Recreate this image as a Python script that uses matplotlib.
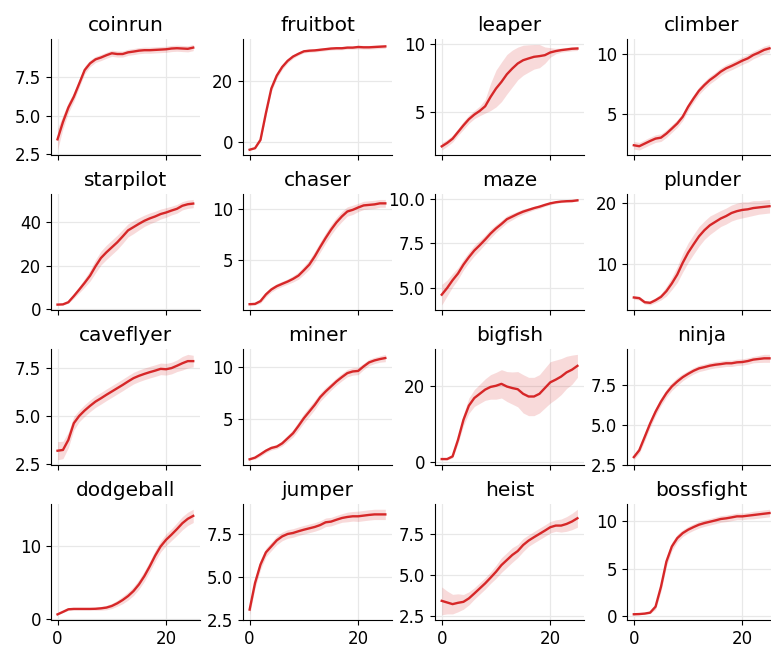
import numpy as np
import matplotlib
matplotlib.use("Agg")
import matplotlib.pyplot as plt

# training progress (x in millions of steps), mean return and half-width of the shaded band
steps = np.arange(26)

coinrun_mean = [3.45, 4.58, 5.53, 6.23, 7.1, 7.98, 8.42, 8.68, 8.8, 8.95, 9.08, 9.03, 9.03,
                9.14, 9.19, 9.25, 9.28, 9.28, 9.3, 9.32, 9.34, 9.39, 9.41, 9.39, 9.37, 9.45]
coinrun_band = [0.7, 0.45, 0.35, 0.3, 0.25, 0.25, 0.22, 0.2, 0.2, 0.2, 0.2, 0.2, 0.2,
                0.2, 0.2, 0.2, 0.2, 0.2, 0.2, 0.2, 0.2, 0.2, 0.2, 0.2, 0.2, 0.2]

fruitbot_mean = [-2.4, -1.9, 0.8, 9.5, 17.5, 21.7, 24.5, 26.5, 27.9, 28.8, 29.6, 29.8, 29.9,
                 30.1, 30.3, 30.5, 30.6, 30.6, 30.8, 30.8, 31.0, 30.9, 30.9, 31.0, 31.1, 31.2]
fruitbot_band = [0.1, 0.15, 0.5, 1.0, 1.0, 0.9, 0.8, 0.7, 0.6, 0.5, 0.5, 0.5, 0.5,
                 0.5, 0.5, 0.5, 0.5, 0.5, 0.5, 0.5, 0.6, 0.6, 0.6, 0.6, 0.6, 0.6]

leaper_mean = [2.5, 2.75, 3.06, 3.55, 4.04, 4.49, 4.83, 5.1, 5.44, 6.13, 6.74, 7.23, 7.79,
               8.21, 8.58, 8.82, 8.95, 9.07, 9.12, 9.19, 9.39, 9.49, 9.56, 9.61, 9.66, 9.68]
leaper_band = [0.27, 0.25, 0.25, 0.25, 0.3, 0.3, 0.3, 0.35, 0.5, 1.0, 1.35, 1.45, 1.45,
               1.35, 1.2, 1.1, 1.0, 0.9, 0.85, 0.6, 0.35, 0.2, 0.15, 0.15, 0.15, 0.15]

climber_mean = [2.36, 2.28, 2.5, 2.72, 2.92, 3.0, 3.34, 3.76, 4.19, 4.75, 5.59, 6.29, 6.94,
                7.42, 7.84, 8.17, 8.54, 8.82, 9.02, 9.24, 9.47, 9.66, 9.94, 10.14, 10.37, 10.5]
climber_band = [0.32] * 26

starpilot_mean = [2.1, 2.2, 3.2, 6.0, 9.0, 12.1, 15.4, 19.7, 23.5, 26.1, 28.4, 30.7, 33.4,
                  36.2, 37.7, 39.2, 40.6, 41.7, 42.6, 43.7, 44.4, 45.3, 46.1, 47.5, 48.2, 48.5]
starpilot_band = [0.15, 0.2, 0.5, 1.0, 1.5, 2.0, 2.5, 3.0, 3.2, 3.3, 3.3, 3.3, 3.2,
                  3.0, 3.0, 2.8, 2.6, 2.5, 2.4, 2.3, 2.2, 2.0, 2.0, 1.9, 1.9, 1.9]

chaser_mean = [0.7, 0.73, 1.0, 1.65, 2.13, 2.45, 2.68, 2.9, 3.16, 3.48, 4.0, 4.55, 5.35,
               6.26, 7.13, 7.94, 8.65, 9.23, 9.71, 9.87, 10.1, 10.3, 10.35, 10.4, 10.5, 10.5]
chaser_band = [0.07, 0.1, 0.2, 0.25, 0.25, 0.25, 0.25, 0.25, 0.3, 0.35, 0.4, 0.45, 0.5,
               0.5, 0.5, 0.5, 0.5, 0.5, 0.45, 0.45, 0.4, 0.4, 0.4, 0.4, 0.38, 0.38]

maze_mean = [4.6, 4.98, 5.42, 5.8, 6.3, 6.72, 7.1, 7.4, 7.72, 8.06, 8.35, 8.6, 8.87,
             9.02, 9.17, 9.3, 9.4, 9.5, 9.58, 9.68, 9.77, 9.83, 9.87, 9.89, 9.9, 9.94]
maze_band = [0.58, 0.45, 0.38, 0.33, 0.3, 0.3, 0.3, 0.28, 0.25, 0.25, 0.22, 0.2, 0.2,
             0.18, 0.15, 0.15, 0.12, 0.1, 0.1, 0.08, 0.08, 0.06, 0.06, 0.05, 0.05, 0.05]

plunder_mean = [4.57, 4.46, 3.8, 3.7, 4.13, 4.67, 5.6, 6.85, 8.3, 10.2, 11.85, 13.2, 14.5,
                15.5, 16.3, 16.85, 17.4, 17.8, 18.3, 18.6, 18.8, 18.9, 19.1, 19.2, 19.3, 19.4]
plunder_band = [0.3, 0.3, 0.3, 0.34, 0.4, 0.5, 0.8, 1.0, 1.3, 1.5, 1.6, 1.6, 1.6,
                1.5, 1.5, 1.4, 1.3, 1.3, 1.3, 1.3, 1.3, 1.2, 1.2, 1.1, 1.1, 1.1]

caveflyer_mean = [3.2, 3.24, 3.76, 4.62, 5.0, 5.28, 5.52, 5.74, 5.91, 6.09, 6.26, 6.43, 6.6,
                  6.78, 6.95, 7.07, 7.17, 7.26, 7.34, 7.43, 7.41, 7.47, 7.59, 7.72, 7.83, 7.83]
caveflyer_band = [0.47, 0.45, 0.4, 0.35, 0.3, 0.3, 0.3, 0.3, 0.3, 0.3, 0.3, 0.3, 0.3,
                  0.3, 0.3, 0.3, 0.3, 0.3, 0.3, 0.3, 0.3, 0.3, 0.3, 0.35, 0.35, 0.3]

miner_mean = [1.18, 1.34, 1.66, 2.0, 2.26, 2.39, 2.7, 3.18, 3.66, 4.36, 5.1, 5.73, 6.37,
              7.1, 7.64, 8.12, 8.6, 9.01, 9.39, 9.55, 9.6, 10.03, 10.41, 10.6, 10.73, 10.83]
miner_band = [0.05, 0.15, 0.2, 0.2, 0.2, 0.2, 0.25, 0.3, 0.35, 0.4, 0.45, 0.45, 0.45,
              0.4, 0.4, 0.35, 0.35, 0.35, 0.35, 0.35, 0.35, 0.3, 0.3, 0.3, 0.3, 0.35]

bigfish_mean = [0.87, 0.87, 1.57, 5.9, 11.1, 14.8, 16.8, 17.9, 19.0, 19.7, 20.0, 20.5, 19.8,
                19.4, 19.1, 17.9, 17.2, 17.2, 17.9, 19.4, 20.9, 21.6, 22.4, 23.5, 24.2, 25.2]
bigfish_band = [0.1, 0.2, 0.4, 1.0, 1.5, 2.0, 2.2, 2.5, 2.8, 3.2, 3.5, 3.7, 3.9,
                4.2, 4.6, 5.0, 5.0, 5.0, 5.0, 5.2, 5.4, 5.1, 4.7, 4.2, 3.8, 3.0]

ninja_mean = [3.0, 3.43, 4.26, 5.1, 5.84, 6.47, 7.0, 7.42, 7.73, 8.0, 8.21, 8.4, 8.55,
              8.63, 8.72, 8.78, 8.82, 8.87, 8.87, 8.93, 8.95, 9.01, 9.1, 9.14, 9.18, 9.18]
ninja_band = [0.16, 0.2, 0.25, 0.25, 0.25, 0.25, 0.25, 0.25, 0.25, 0.22, 0.2, 0.2, 0.2,
              0.2, 0.2, 0.2, 0.2, 0.2, 0.2, 0.2, 0.2, 0.2, 0.2, 0.22, 0.25, 0.25]

dodgeball_mean = [0.66, 1.0, 1.35, 1.4, 1.4, 1.4, 1.4, 1.42, 1.48, 1.58, 1.8, 2.16, 2.61,
                  3.15, 3.83, 4.73, 5.86, 7.2, 8.65, 9.9, 10.8, 11.5, 12.25, 13.05, 13.65, 14.05]
dodgeball_band = [0.05, 0.1, 0.15, 0.15, 0.15, 0.15, 0.15, 0.2, 0.25, 0.3, 0.35, 0.4, 0.5,
                  0.55, 0.6, 0.65, 0.7, 0.7, 0.75, 0.75, 0.8, 0.8, 0.85, 0.9, 0.9, 0.9]

jumper_mean = [3.08, 4.63, 5.7, 6.41, 6.76, 7.11, 7.34, 7.48, 7.54, 7.64, 7.73, 7.81, 7.89,
               8.0, 8.16, 8.2, 8.31, 8.41, 8.47, 8.51, 8.51, 8.55, 8.59, 8.62, 8.62, 8.62]
jumper_band = [0.3, 0.3, 0.3, 0.25, 0.25, 0.25, 0.25, 0.25, 0.25, 0.25, 0.25, 0.25, 0.25,
               0.25, 0.25, 0.25, 0.25, 0.25, 0.28, 0.28, 0.3, 0.3, 0.3, 0.3, 0.3, 0.3]

heist_mean = [3.4, 3.3, 3.2, 3.28, 3.34, 3.55, 3.85, 4.16, 4.47, 4.82, 5.18, 5.59, 5.9,
              6.21, 6.45, 6.82, 7.09, 7.3, 7.5, 7.7, 7.91, 8.01, 8.01, 8.11, 8.26, 8.46]
heist_band = [0.85, 0.7, 0.6, 0.55, 0.45, 0.4, 0.35, 0.35, 0.35, 0.35, 0.4, 0.45, 0.45,
              0.45, 0.4, 0.4, 0.35, 0.35, 0.35, 0.35, 0.35, 0.35, 0.4, 0.45, 0.5, 0.55]

bossfight_mean = [0.2, 0.22, 0.27, 0.37, 1.0, 3.1, 5.76, 7.35, 8.23, 8.76, 9.12, 9.4, 9.65,
                  9.82, 9.96, 10.1, 10.25, 10.32, 10.42, 10.53, 10.53, 10.6, 10.67, 10.74, 10.81, 10.88]
bossfight_band = [0.05, 0.05, 0.05, 0.1, 0.3, 0.5, 0.5, 0.45, 0.4, 0.35, 0.35, 0.35, 0.35,
                  0.35, 0.35, 0.35, 0.35, 0.35, 0.35, 0.35, 0.35, 0.35, 0.4, 0.4, 0.4, 0.4]

# y tick values shown on each panel
yticks = {
    "coinrun": [2.5, 5.0, 7.5], "fruitbot": [0, 20], "leaper": [5, 10], "climber": [5, 10],
    "starpilot": [0, 20, 40], "chaser": [5, 10], "maze": [5.0, 7.5, 10.0], "plunder": [10, 20],
    "caveflyer": [2.5, 5.0, 7.5], "miner": [5, 10], "bigfish": [0, 20], "ninja": [2.5, 5.0, 7.5],
    "dodgeball": [0, 10], "jumper": [2.5, 5.0, 7.5], "heist": [2.5, 5.0, 7.5], "bossfight": [0, 5, 10],
}

games = [
    ("coinrun", coinrun_mean, coinrun_band),
    ("fruitbot", fruitbot_mean, fruitbot_band),
    ("leaper", leaper_mean, leaper_band),
    ("climber", climber_mean, climber_band),
    ("starpilot", starpilot_mean, starpilot_band),
    ("chaser", chaser_mean, chaser_band),
    ("maze", maze_mean, maze_band),
    ("plunder", plunder_mean, plunder_band),
    ("caveflyer", caveflyer_mean, caveflyer_band),
    ("miner", miner_mean, miner_band),
    ("bigfish", bigfish_mean, bigfish_band),
    ("ninja", ninja_mean, ninja_band),
    ("dodgeball", dodgeball_mean, dodgeball_band),
    ("jumper", jumper_mean, jumper_band),
    ("heist", heist_mean, heist_band),
    ("bossfight", bossfight_mean, bossfight_band),
]

red = "#d62728"

fig, axes = plt.subplots(4, 4, figsize=(7.71, 6.48), dpi=100, sharex=True)
fig.subplots_adjust(left=0.0658, right=1.0069, top=0.9394, bottom=0.0432,
                    wspace=0.287, hspace=0.335)

for ax, (name, mean, band) in zip(axes.flat, games):
    mean = np.array(mean)
    band = np.array(band)
    ax.fill_between(steps, mean - band, mean + band, color=red, alpha=0.17, linewidth=0)
    ax.plot(steps, mean, color=red, linewidth=1.7)
    ax.set_title(name, fontsize=14.5)
    ax.set_axisbelow(True)
    ax.grid(True, color="#e8e8e8", linewidth=0.9)
    ax.spines["top"].set_visible(False)
    ax.spines["right"].set_visible(False)
    ax.tick_params(labelsize=12)
    ax.set_xticks([0, 20])
    ax.set_yticks(yticks[name])

fig.savefig("out.png", dpi=100)
